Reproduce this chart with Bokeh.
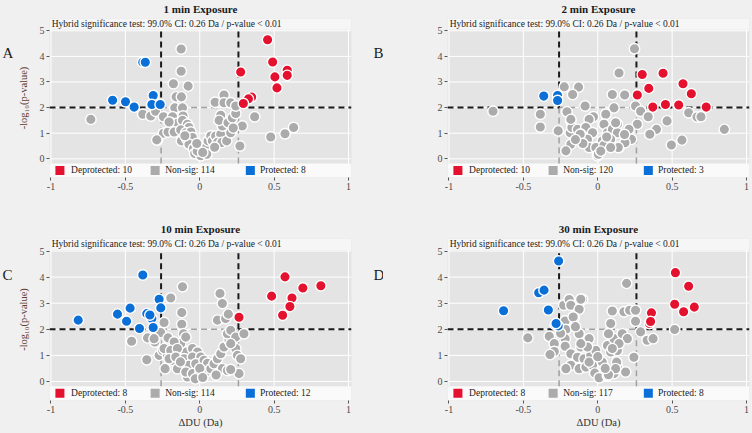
from bokeh.plotting import figure
from bokeh.layouts import row, column
from bokeh.models import Range1d, FixedTicker, BoxAnnotation
from bokeh.embed import file_html
from bokeh.resources import INLINE
from bokeh.core.properties import value

# ---------------- data ----------------
titles = ["1 min Exposure", "2 min Exposure", "10 min Exposure", "30 min Exposure"]
letters = ["A", "B", "C", "D"]
ci_threshold = 0.26
p_value = 0.01
p_line = 2.0  # -log10(0.01)
x_ticks = [-1, -0.5, 0, 0.5, 1]
x_tick_labels = ["-1", "-0.5", "0", "0.5", "1"]
y_ticks = [0, 1, 2, 3, 4, 5]
dep_counts = [10, 10, 8, 8]
nonsig_counts = [114, 120, 114, 117]
prot_counts = [8, 3, 12, 8]

# Panel A (1 min)
a_dep_x = [0.456, 0.49, 0.275, 0.505, 0.519, 0.588, 0.588, 0.349, 0.327, 0.293]
a_dep_y = [4.65, 3.78, 3.39, 3.2, 2.77, 3.46, 3.26, 2.41, 2.34, 2.16]
a_pro_x = [-0.383, -0.366, -0.586, -0.499, -0.441, -0.313, -0.322, -0.266]
a_pro_y = [3.77, 3.77, 2.29, 2.23, 2.02, 2.47, 2.12, 2.12]
a_ns_x = [-0.732, -0.383, -0.329, -0.297, -0.284, -0.125, -0.125, -0.177, -0.078, -0.159, -0.123, -0.168,
          -0.116, -0.244, -0.183, -0.112, -0.195, -0.15, -0.116, -0.083, -0.072, -0.244, -0.213, -0.172,
          -0.128, -0.094, -0.06, -0.289, -0.123, -0.087, -0.049, -0.072, -0.042, -0.005, -0.034, 0.007,
          0.029, 0.047, 0.056, 0.074, 0.047, 0.085, 0.107, 0.141, 0.119, 0.148, 0.181, 0.208, 0.152, 0.141,
          0.13, 0.19, 0.219, 0.242, 0.103, 0.163, 0.163, 0.208, 0.242, 0.286, 0.27, 0.369, 0.477, 0.573,
          0.631, -0.206, -0.017, 0.02, -0.1, -0.02, 0.1, 0.225]
a_ns_y = [1.54, 1.74, 1.67, 1.86, 0.73, 4.29, 3.42, 2.93, 2.84, 2.42, 2.42, 1.99, 1.99, 1.64, 1.64, 1.67,
          1.41, 1.39, 1.5, 1.35, 1.22, 1.0, 1.05, 1.05, 1.13, 1.02, 1.05, 0.74, 0.7, 0.77, 0.83, 0.57, 0.4,
          0.5, 0.21, 0.12, 0.35, 0.48, 0.7, 0.89, 0.18, 0.7, 0.89, 0.96, 0.64, 0.64, 0.7, 1.02, 1.28, 1.7,
          1.5, 1.41, 1.6, 1.77, 2.21, 2.49, 2.19, 2.19, 2.06, 1.28, 0.5, 1.64, 0.85, 0.98, 1.22, 1.44, 0.3,
          0.25, 0.9, 0.6, 0.45, 1.2]

# Panel B (2 min)
b_dep_x = [0.299, 0.439, 0.343, 0.573, 0.629, 0.266, 0.37, 0.455, 0.544, 0.729]
b_dep_y = [3.29, 3.34, 2.75, 2.93, 2.54, 2.49, 2.02, 2.12, 2.1, 2.02]
b_pro_x = [-0.363, -0.27, -0.27]
b_pro_y = [2.45, 2.47, 2.28]
b_ns_x = [-0.704, -0.386, -0.386, -0.266, -0.225, -0.129, -0.169, 0.143, 0.098, -0.085, 0.109, -0.207,
          -0.181, -0.029, 0.054, -0.058, -0.185, -0.174, -0.136, -0.08, -0.114, -0.035, -0.069, 0.042,
          0.065, 0.098, 0.132, 0.132, 0.031, 0.087, 0.143, -0.181, -0.214, -0.058, -0.013, -0.002, 0.042,
          0.247, 0.181, 0.254, 0.288, 0.339, 0.466, 0.611, 0.667, 0.694, 0.851, 0.395, 0.35, 0.566, 0.495,
          0.266, 0.21, 0.12, 0.227, 0.183, 0.138, 0.087, 0.004, -0.118, -0.181, 0.02, -0.1, 0.06, -0.15, 0.18]
b_ns_y = [1.86, 1.74, 1.24, 1.09, 2.81, 2.8, 2.51, 3.35, 2.51, 2.06, 1.99, 1.84, 1.48, 1.64, 1.74, 1.54,
          1.02, 1.22, 1.15, 1.22, 0.96, 1.02, 0.76, 1.35, 1.02, 1.15, 1.35, 1.02, 0.7, 0.76, 0.44, 0.57, 0.31,
          0.44, 0.44, 0.12, 0.53, 4.3, 2.49, 2.06, 1.86, 1.64, 1.48, 1.8, 1.63, 1.64, 1.15, 1.15, 0.96, 0.73,
          0.54, 1.35, 1.15, 1.41, 0.76, 0.63, 0.44, 0.44, 0.18, 0.96, 1.54, 0.3, 0.6, 0.85, 0.75, 0.95]

# Panel C (10 min)
c_dep_x = [0.573, 0.814, 0.693, 0.483, 0.62, 0.606, 0.557, 0.264]
c_dep_y = [4.01, 3.67, 3.58, 3.27, 3.2, 2.87, 2.54, 2.46]
c_pro_x = [-0.383, -0.817, -0.553, -0.468, -0.492, -0.405, -0.356, -0.322, -0.313, -0.273, -0.262, -0.335]
c_pro_y = [4.08, 2.35, 2.58, 2.81, 2.31, 2.03, 2.6, 2.41, 2.07, 3.15, 2.82, 2.55]
c_ns_x = [-0.458, -0.356, -0.351, -0.302, -0.116, -0.195, -0.121, -0.121, -0.24, -0.262, -0.213, -0.109,
          -0.273, -0.25, -0.217, -0.183, -0.15, -0.233, -0.094, -0.128, -0.083, -0.079, -0.172, -0.094,
          -0.24, -0.195, -0.15, -0.049, -0.015, -0.206, -0.161, -0.105, -0.049, 0.007, -0.072, -0.027,
          0.029, 0.052, -0.094, -0.049, -0.005, 0.04, 0.074, 0.096, 0.119, 0.141, 0.163, 0.197, 0.186,
          0.208, 0.242, 0.242, 0.253, 0.119, 0.136, 0.152, 0.174, 0.192, 0.297, 0.152, 0.186, 0.264,
          -0.307, 0.275, 0.208, 0.208, 0.0, -0.03, 0.02, 0.11, -0.13]
c_ns_y = [1.54, 0.83, 1.67, 1.51, 3.63, 3.2, 2.64, 2.19, 2.26, 1.87, 1.67, 1.83, 1.0, 1.19, 1.0, 0.81,
          0.49, 0.49, 1.13, 1.45, 0.17, 0.64, 1.51, 1.7, 1.26, 1.19, 1.26, 1.26, 1.13, 0.87, 0.94, 0.87,
          0.94, 0.94, 0.62, 0.68, 0.81, 0.7, 0.36, 0.3, 0.23, 0.36, 0.49, 0.68, 0.87, 1.06, 1.32, 1.58,
          1.83, 1.96, 1.7, 1.26, 1.0, 2.35, 3.37, 2.99, 2.41, 2.58, 1.83, 0.49, 0.42, 0.3, 1.64, 0.87,
          0.46, 1.45, 0.5, 0.1, 0.15, 0.25, 0.75]

# Panel D (30 min)
d_dep_x = [0.522, 0.611, 0.517, 0.649, 0.577, 0.361, 0.348, 0.355]
d_dep_y = [4.17, 3.65, 2.96, 2.85, 2.67, 2.63, 2.22, 2.3]
d_pro_x = [-0.263, -0.397, -0.361, -0.633, -0.332, -0.286, -0.266, -0.28]
d_pro_y = [4.62, 3.4, 3.5, 2.71, 2.74, 2.18, 2.13, 2.22]
d_ns_x = [-0.47, -0.326, -0.292, -0.292, -0.321, -0.229, -0.192, -0.181, -0.102, -0.125, -0.158, -0.219,
          -0.214, -0.219, -0.219, -0.181, -0.125, -0.058, -0.114, -0.069, -0.136, -0.092, -0.047, -0.013,
          -0.181, -0.125, -0.08, -0.035, -0.02, 0.009, 0.065, 0.109, 0.132, 0.098, 0.087, 0.065, 0.087,
          0.132, 0.109, 0.194, -0.114, -0.165, 0.176, 0.214, 0.254, 0.254, 0.072, 0.165, 0.288, 0.332,
          0.372, 0.517, 0.199, 0.143, 0.098, 0.243, 0.127, 0.187, 0.12, 0.072, 0.031, -0.058, -0.214,
          -0.069, -0.114, -0.25, -0.15, 0.0, 0.05]
d_ns_y = [1.67, 1.73, 1.45, 1.15, 1.03, 2.92, 3.14, 2.92, 3.14, 2.77, 2.45, 2.32, 1.99, 1.64, 1.35, 1.06,
          1.83, 1.64, 1.32, 1.32, 0.93, 0.87, 1.0, 1.19, 0.62, 0.49, 0.55, 0.62, 0.32, 0.14, 0.23, 0.3, 0.55,
          2.7, 2.22, 1.38, 1.13, 1.19, 1.64, 3.76, 3.15, 2.47, 2.67, 2.73, 2.73, 2.31, 1.83, 1.83, 1.9, 1.58,
          1.64, 1.99, 1.64, 1.45, 1.26, 0.93, 0.74, 0.36, 0.49, 0.26, 0.74, 0.74, 0.49, 1.32, 1.45, 1.85,
          2.1, 0.95, 0.5]

panels = [
    (a_ns_x, a_ns_y, a_pro_x, a_pro_y, a_dep_x, a_dep_y),
    (b_ns_x, b_ns_y, b_pro_x, b_pro_y, b_dep_x, b_dep_y),
    (c_ns_x, c_ns_y, c_pro_x, c_pro_y, c_dep_x, c_dep_y),
    (d_ns_x, d_ns_y, d_pro_x, d_pro_y, d_dep_x, d_dep_y),
]

# ---------------- style ----------------
PAGE = "#f0f0f0"
PANEL = "#e4e4e4"
STRIP = "#f6f6f6"
LEGBAND = "#fafafa"
RED = "#e5122f"
BLUE = "#0b6fd8"
GREY = "#ababab"
SERIF = "Liberation Serif"
X_LO, X_HI = -1.01, 1.02
Y_LO, Y_HI = -0.73, 5.48
PANEL_TOP, PANEL_BOT = 5.04, -0.18
FRAME_W = 302


def build(i, left, right, top, frame_h, bottom, ylabel, xlabel, title_gap):
    ns_x, ns_y, pr_x, pr_y, dp_x, dp_y = panels[i]
    p = figure(width=left + FRAME_W + right, height=top + frame_h + bottom,
               x_range=Range1d(X_LO, X_HI), y_range=Range1d(Y_LO, Y_HI),
               output_backend="svg", toolbar_location=None,
               min_border_left=left, min_border_right=right,
               min_border_top=top, min_border_bottom=bottom)
    p.background_fill_color = PANEL
    p.border_fill_color = PAGE
    p.outline_line_color = None
    p.grid.visible = False

    p.title.text = titles[i]
    p.title.align = "center"
    p.title.vertical_align = "top"
    p.title.text_font = SERIF
    p.title.text_font_size = "11px"
    p.title.text_font_style = "bold"
    p.title.text_color = "#1a1a1a"
    p.title.standoff = title_gap
    p.title.offset = 0

    p.xaxis.ticker = FixedTicker(ticks=x_ticks)
    p.xaxis.major_label_overrides = dict(zip(x_ticks, x_tick_labels))
    p.yaxis.ticker = FixedTicker(ticks=y_ticks)
    for ax in (p.xaxis[0], p.yaxis[0]):
        ax.axis_line_color = None
        ax.major_tick_line_color = "#555555"
        ax.major_tick_in = 0
        ax.major_tick_out = 3
        ax.minor_tick_line_color = None
        ax.major_label_text_font = SERIF
        ax.major_label_text_font_size = "10px"
        ax.major_label_text_color = "#4a4a4a"
        ax.major_label_standoff = 2
    if ylabel:
        p.yaxis.axis_label = "-log\u2081\u2080(p-value)"
        p.yaxis.axis_label_text_font = SERIF
        p.yaxis.axis_label_text_font_style = "normal"
        p.yaxis.axis_label_text_font_size = "10.5px"
        p.yaxis.axis_label_text_color = "#5e3a2f"
        p.yaxis.axis_label_standoff = 8
    if xlabel:
        p.xaxis.axis_label = "\u0394DU (Da)"
        p.xaxis.axis_label_text_font = SERIF
        p.xaxis.axis_label_text_font_style = "normal"
        p.xaxis.axis_label_text_font_size = "10.5px"
        p.xaxis.axis_label_text_color = "#333333"
        p.xaxis.axis_label_standoff = 1

    # strip and legend band
    p.add_layout(BoxAnnotation(bottom=PANEL_TOP, fill_color=STRIP, fill_alpha=1,
                               line_color=None, level="underlay"))
    p.add_layout(BoxAnnotation(top=PANEL_BOT, fill_color=LEGBAND, fill_alpha=1,
                               line_color=None, level="underlay"))

    # grid lines (only inside the grey panel)
    p.segment(x0=x_ticks, x1=x_ticks, y0=[PANEL_BOT] * len(x_ticks), y1=[PANEL_TOP] * len(x_ticks),
              line_color="white", line_width=1)
    p.segment(x0=[X_LO] * len(y_ticks), x1=[X_HI] * len(y_ticks), y0=y_ticks, y1=y_ticks,
              line_color="white", line_width=1)

    # threshold lines
    c = ci_threshold
    p.segment(x0=[-c, c, -c], x1=[-c, c, c], y0=[PANEL_BOT, PANEL_BOT, p_line], y1=[p_line, p_line, p_line],
              line_color="#a0a0a0", line_width=1.5, line_dash="6 4")
    p.segment(x0=[X_LO, -c, c, c], x1=[-c, -c, X_HI, c], y0=[p_line, p_line, p_line, p_line],
              y1=[p_line, PANEL_TOP, p_line, PANEL_TOP],
              line_color="#1a1a1a", line_width=2, line_dash="6 4")

    # points
    p.scatter(ns_x, ns_y, size=10.5, fill_color=GREY, line_color="white", line_width=1.4)
    p.scatter(pr_x, pr_y, size=10.5, fill_color=BLUE, line_color="white", line_width=1.4)
    p.scatter(dp_x, dp_y, size=10.5, fill_color=RED, line_color="white", line_width=1.4)

    # strip text
    p.text(x=[-0.995], y=[5.26],
           text=[f"Hybrid significance test: 99.0% CI: {ci_threshold} Da / p-value < {p_value}"],
           text_font=value(SERIF), text_font_size="9.5px", text_baseline="middle",
           text_align="left", text_color="#1a1a1a")

    # legend inside band
    leg_y = (PANEL_BOT + Y_LO) / 2
    p.scatter([-0.94], [leg_y], marker="square", size=9, fill_color=RED, line_color=None)
    p.scatter([-0.30], [leg_y], marker="square", size=9, fill_color=GREY, line_color=None)
    p.scatter([0.34], [leg_y], marker="square", size=9, fill_color=BLUE, line_color=None)
    p.text(x=[-0.865, -0.232, 0.405], y=[leg_y] * 3,
           text=[f"Deprotected: {dep_counts[i]}", f"Non-sig: {nonsig_counts[i]}", f"Protected: {prot_counts[i]}"],
           text_font=value(SERIF), text_font_size="9.5px", text_baseline="middle",
           text_align="left", text_color="#1a1a1a")
    return p


def letter_fig(letter, w, h, y_from_top):
    f = figure(width=w, height=h, x_range=Range1d(0, w), y_range=Range1d(h, 0),
               output_backend="svg", toolbar_location=None, title=None,
               x_axis_location=None, y_axis_location=None,
               min_border_left=0, min_border_right=0, min_border_top=0, min_border_bottom=0)
    f.grid.visible = False
    f.outline_line_color = None
    f.background_fill_color = PAGE
    f.border_fill_color = PAGE
    f.text(x=[2], y=[y_from_top], text=[letter], text_font=value(SERIF), text_font_size="15px",
           text_baseline="middle", text_align="left", text_color="#1a1a1a")
    return f


H1, H2 = 215, 218
lA = letter_fig(letters[0], 14, H1, 47)
lB = letter_fig(letters[1], 12, H1, 47)
lC = letter_fig(letters[2], 14, H2, 49)
lD = letter_fig(letters[3], 12, H2, 49)

pA = build(0, left=35, right=20, top=17, frame_h=160, bottom=38, ylabel=True, xlabel=False, title_gap=4)
pB = build(1, left=64, right=3, top=17, frame_h=160, bottom=38, ylabel=False, xlabel=False, title_gap=4)
pC = build(2, left=35, right=20, top=23, frame_h=162, bottom=33, ylabel=True, xlabel=True, title_gap=4)
pD = build(3, left=64, right=3, top=23, frame_h=162, bottom=33, ylabel=False, xlabel=True, title_gap=4)

layout = column(row(lA, pA, lB, pB), row(lC, pC, lD, pD))

html = file_html(layout, INLINE)
html = html.replace("</head>", "<style>body{background-color:#f0f0f0;}</style></head>", 1)
open("out.html", "w").write(html)
